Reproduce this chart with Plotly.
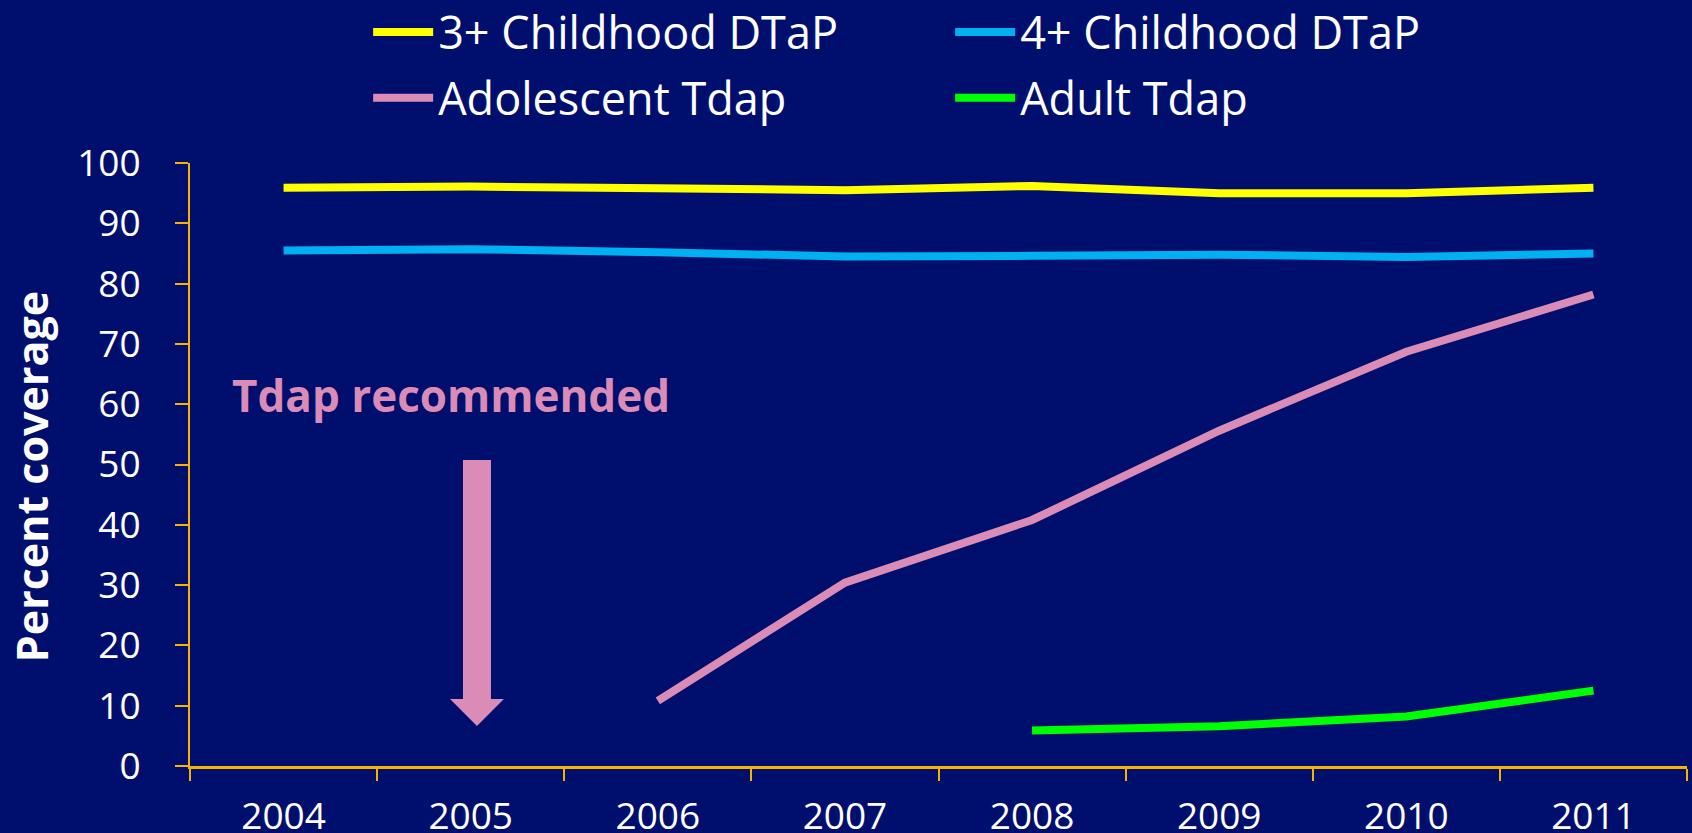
import plotly.graph_objects as go

NAVY = "#000f6e"
GOLD = "#f5b400"
PINK = "#da8cb6"

years = ["2004", "2005", "2006", "2007", "2008", "2009", "2010", "2011"]

dtap3 = [95.9, 96.1, 95.8, 95.5, 96.2, 95.0, 95.0, 95.9]
dtap4 = [85.5, 85.7, 85.2, 84.5, 84.6, 84.8, 84.4, 85.0]
adolescent_tdap = [None, None, 10.8, 30.4, 40.8, 55.6, 68.7, 78.2]
adult_tdap = [None, None, None, None, 5.9, 6.6, 8.2, 12.5]

series = [
    ("3+ Childhood DTaP", dtap3, "#ffff00", "legend"),
    ("4+ Childhood DTaP", dtap4, "#00b0f0", "legend"),
    ("Adolescent Tdap", adolescent_tdap, PINK, "legend2"),
    ("Adult Tdap", adult_tdap, "#00ff00", "legend2"),
]

fig = go.Figure()
for name, values, color, leg in series:
    fig.add_trace(
        go.Scatter(
            x=years,
            y=values,
            name=name,
            mode="lines",
            line=dict(color=color, width=8),
            connectgaps=False,
            legend=leg,
        )
    )

# y axis title, placed by hand so it sits a little below the middle like the original
fig.add_annotation(
    text="<b>Percent coverage</b>",
    xref="paper", yref="paper", x=-0.1062, y=0.479,
    xanchor="center", yanchor="middle",
    textangle=-90,
    showarrow=False,
    font=dict(size=43, color="white", family="Open Sans, sans-serif"),
)

# "Tdap recommended" note with a fat down arrow
fig.add_annotation(
    text="<b>Tdap recommended</b>",
    xref="paper", yref="paper", x=0.1743, y=0.615,
    xanchor="center", yanchor="middle",
    showarrow=False,
    font=dict(size=44, color=PINK, family="Open Sans, sans-serif"),
)
cx, sw, hw = 0.1917, 0.00935, 0.018
top, base, tip = 0.5075, 0.111, 0.0663
fig.add_shape(
    type="path",
    xref="paper", yref="paper",
    path=(f"M {cx - sw},{top} L {cx + sw},{top} L {cx + sw},{base} L {cx + hw},{base} "
          f"L {cx},{tip} L {cx - hw},{base} L {cx - sw},{base} Z"),
    fillcolor=PINK,
    line=dict(width=0),
)

legend_style = dict(
    orientation="h",
    x=0.119, xanchor="left",
    yanchor="middle",
    entrywidth=507,
    itemwidth=60,
    font=dict(size=45, color="white"),
    bgcolor="rgba(0,0,0,0)",
    traceorder="normal",
)

fig.update_layout(
    width=1692,
    height=833,
    margin=dict(l=190, r=5, t=163, b=67, autoexpand=False),
    paper_bgcolor=NAVY,
    plot_bgcolor=NAVY,
    font=dict(family="Open Sans, sans-serif", color="white", size=37),
    showlegend=True,
    legend=dict(legend_style, y=1.217),
    legend2=dict(legend_style, y=1.108),
)
fig.update_xaxes(
    type="category",
    range=[-0.5, 7.5],
    tickson="boundaries",
    ticks="outside",
    ticklen=12,
    tickwidth=2,
    tickcolor=GOLD,
    showline=True,
    linecolor=GOLD,
    linewidth=3,
    showgrid=False,
    zeroline=False,
    ticklabelstandoff=16,
    tickfont=dict(size=37, color="white"),
)
fig.update_yaxes(
    range=[0, 100],
    dtick=10,
    ticks="outside",
    ticklen=13,
    tickwidth=2,
    tickcolor=GOLD,
    showline=True,
    linecolor=GOLD,
    linewidth=2,
    showgrid=False,
    zeroline=False,
    ticklabelstandoff=27,
    tickfont=dict(size=37, color="white"),
)

fig.write_html(
    "out.html",
    config={"displayModeBar": False},
    post_script="document.body.style.margin='0'; document.body.style.background='#000f6e';",
)
